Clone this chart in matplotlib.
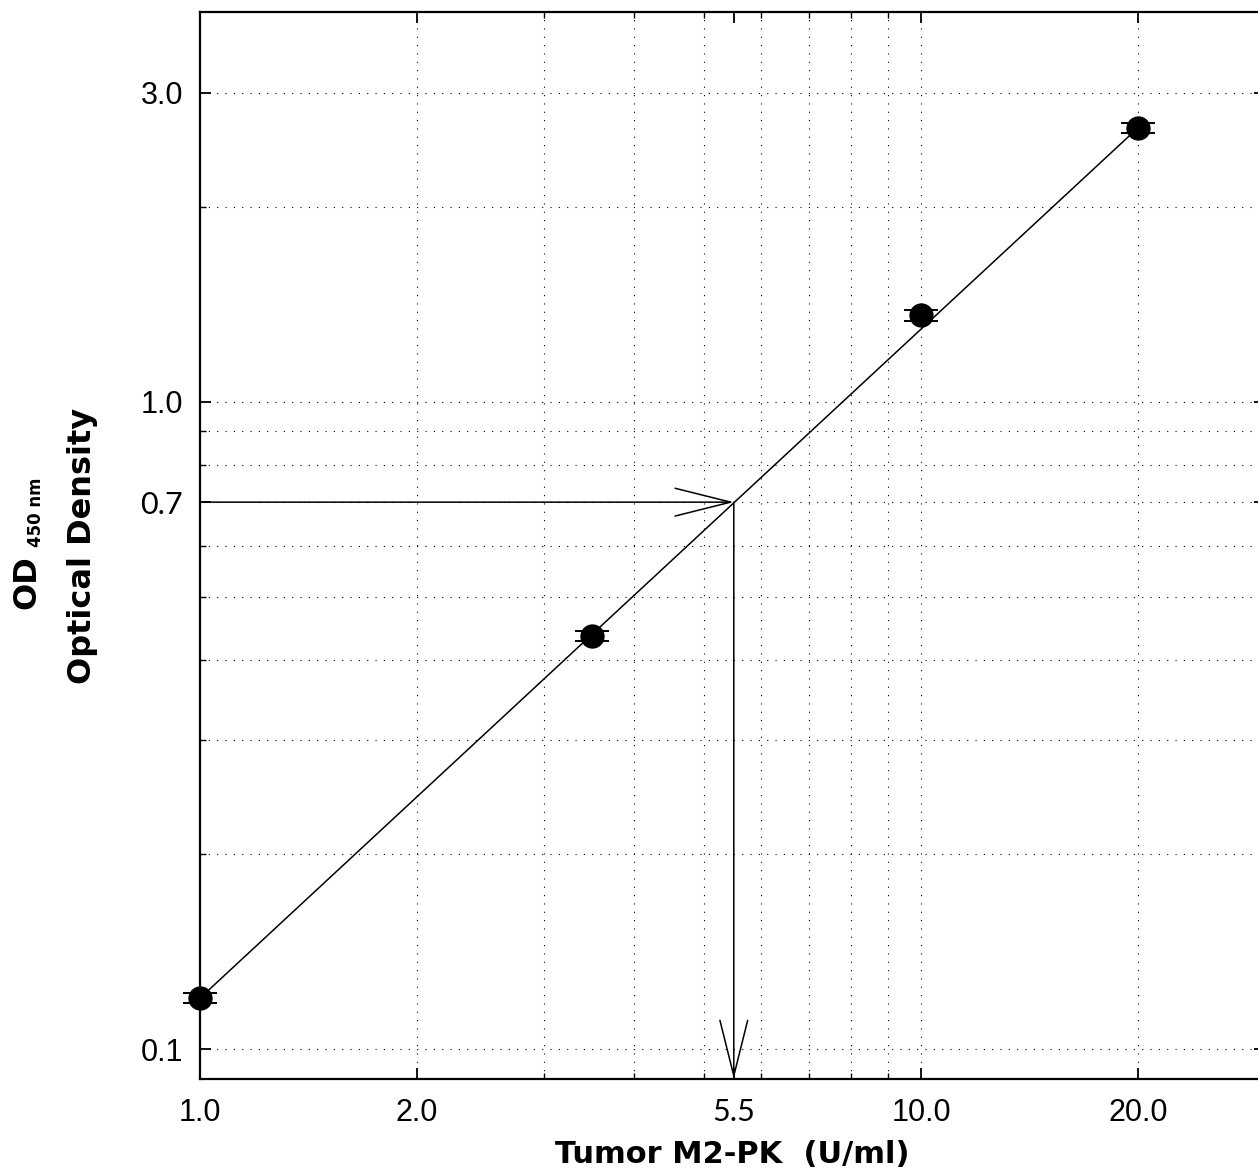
"""
Standard curve for the Tumor M2-PK ELISA (OD 450 nm vs. concentration),
log-log axes with a read-off example at OD 0.7 -> 5.5 U/ml.
"""

import numpy as np
import matplotlib
matplotlib.use("Agg")
import matplotlib.pyplot as plt
from matplotlib.ticker import FixedLocator, NullFormatter

# Standards: concentration (U/ml) and measured optical density
conc = np.array([1.0, 3.5, 10.0, 20.0])
od = np.array([0.12, 0.435, 1.36, 2.65])
od_err = np.array([0.0022, 0.008, 0.025, 0.048])

# Read-off example
sample_od = 0.7
sample_conc = 5.5

x_major = [1.0, 2.0, 5.5, 10.0, 20.0]
x_labels = ["1.0", "2.0", "5.5", "10.0", "20.0"]
x_minor = [3, 4, 5, 6, 7, 8, 9]
x_grid = [2, 3, 4, 5, 6, 7, 8, 9, 10, 20]

y_major = [0.1, 0.7, 1.0, 3.0]
y_labels = ["0.1", "0.7", "1.0", "3.0"]
y_minor = [0.2, 0.3, 0.4, 0.5, 0.6, 0.8, 0.9, 2.0]
y_grid = [0.1, 0.2, 0.3, 0.4, 0.5, 0.6, 0.7, 0.8, 0.9, 1.0, 2.0, 3.0]

fig = plt.figure(figsize=(12.58, 11.76), dpi=100)
ax = fig.add_axes([200 / 1258, 97 / 1176, 1065 / 1258, 1067 / 1176])
ax.set_xscale("log")
ax.set_yscale("log")
ax.set_xlim(1.0, 30.0)
ax.set_ylim(0.09, 4.0)

# dotted grid drawn by hand so 5.5 / 0.7 labels don't add extra lines
dots = (0, (1, 6.5))
for gx in x_grid:
    ax.axvline(gx, color="black", lw=0.8, linestyle=dots, zorder=1)
for gy in y_grid:
    ax.axhline(gy, color="black", lw=0.8, linestyle=dots, zorder=1)

# straight standard curve through the end points
ax.plot(conc[[0, -1]], od[[0, -1]], color="black", lw=1.1, zorder=2)
ax.errorbar(conc, od, yerr=od_err, fmt="o", color="black", ms=16.5,
            capsize=12.5, capthick=1.4, elinewidth=1.0, zorder=3, clip_on=False)

# read-off arrows
arrow = dict(arrowstyle="->, head_length=2.0, head_width=0.5", color="black",
             lw=1.1, shrinkA=0, shrinkB=0, mutation_scale=20)
ax.annotate("", xy=(sample_conc, sample_od), xytext=(1.0, sample_od), arrowprops=arrow)
ax.annotate("", xy=(sample_conc, 0.09), xytext=(sample_conc, sample_od), arrowprops=arrow)

ax.xaxis.set_major_locator(FixedLocator(x_major))
ax.xaxis.set_minor_locator(FixedLocator(x_minor))
ax.yaxis.set_major_locator(FixedLocator(y_major))
ax.yaxis.set_minor_locator(FixedLocator(y_minor))
ax.xaxis.set_minor_formatter(NullFormatter())
ax.yaxis.set_minor_formatter(NullFormatter())
ax.set_xticklabels(x_labels)
ax.set_yticklabels(y_labels)

ax.tick_params(which="both", direction="in", top=True, right=True)
ax.tick_params(which="major", length=8, width=1.3, labelsize=22,
               colors="black")
ax.tick_params(which="minor", length=4, width=1.0)
ax.tick_params(axis="x", which="major", pad=14)
ax.tick_params(axis="y", which="major", pad=12)

for lab in ax.get_xticklabels() + ax.get_yticklabels():
    lab.set_family(["Liberation Sans", "DejaVu Sans"])
    if lab.get_text() in ("5.5", "0.7"):
        lab.set_family(["Lato", "DejaVu Sans"])
        lab.set_fontweight("normal")

for side in ax.spines.values():
    side.set_linewidth(1.6)

ax.set_xlabel("Tumor M2-PK  (U/ml)", fontsize=22, fontweight="bold",
              family=["DejaVu Sans"], labelpad=8)

fig.text(27 / 1258, 1 - 582 / 1176, "OD", rotation=90, fontsize=23,
         fontweight="bold", ha="center", va="center")
fig.text(36 / 1258, 1 - 512 / 1176, "450 nm", rotation=90, fontsize=12,
         fontweight="bold", ha="center", va="center")
fig.text(83 / 1258, 1 - 546 / 1176, "Optical Density", rotation=90, fontsize=23,
         fontweight="bold", ha="center", va="center")

fig.savefig("out.png", dpi=100)
